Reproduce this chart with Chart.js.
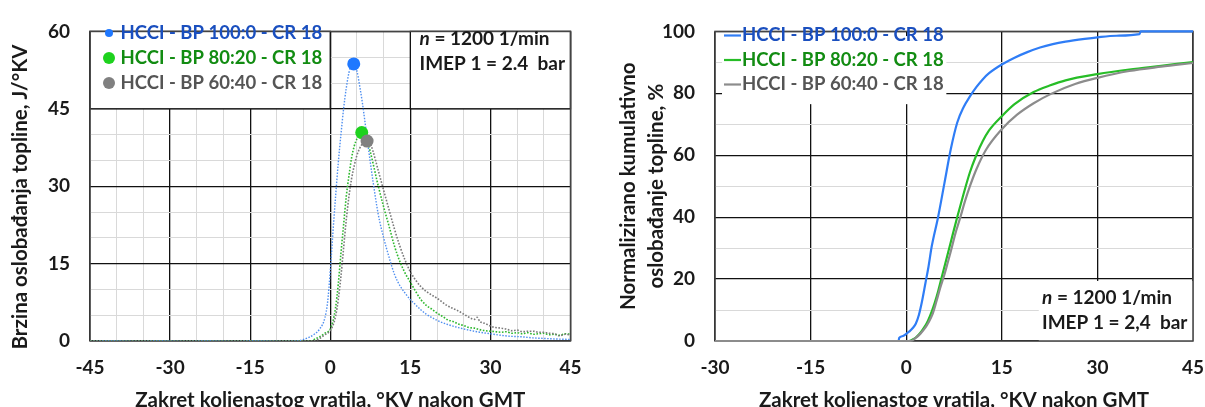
<!DOCTYPE html>
<html>
<head>
<meta charset="utf-8">
<script src="https://cdn.jsdelivr.net/npm/chart.js@4.4.1/dist/chart.umd.min.js"></script>
<style>
  html, body { margin: 0; padding: 0; background: #fff; width: 1205px; height: 407px; overflow: hidden; }
  .panel { position: absolute; top: 0; height: 420px; }
  #left-panel { left: 0; width: 600px; }
  #right-panel { left: 600px; width: 625px; }
</style>
</head>
<body>
<div class="panel" id="left-panel"><canvas id="hrr-chart"></canvas></div>
<div class="panel" id="right-panel"><canvas id="cum-chart"></canvas></div>
<script>
// ============================
// DATA
// ============================

const SERIES_NAMES = ["HCCI - BP 100:0 - CR 18", "HCCI - BP 80:20 - CR 18", "HCCI - BP 60:40 - CR 18"];

const X_TITLE = "Zakret koljenastog vratila, °KV nakon GMT";
const HRR_Y_TITLE = "Brzina oslobađanja topline, J/°KV";
const CUM_Y_TITLE = ["Normalizirano kumulativno", "oslobađanje topline, %"];

const HRR_NOTES = ["n = 1200 1/min", "IMEP 1 = 2.4  bar"];
const CUM_NOTES = ["n = 1200 1/min", "IMEP 1 = 2,4  bar"];

// heat release rate, J/°KV (left)
const hrrAngle100 = [-45, -6, -5, -4, -3, -2, -1, -0.5, 0, 0.5, 1, 1.5, 2, 2.5, 3, 3.5, 4, 4.4, 5, 5.5, 6, 6.5, 7, 8, 9, 10, 11, 12, 13, 14, 15, 16, 17, 18, 20, 22, 24, 26, 28, 30, 32, 34, 36, 38, 40, 42, 45];
const hrr100 = [0, 0, 0.3, 0.7, 1.3, 2.3, 4.5, 7.5, 13.5, 21, 28, 34.5, 40, 45, 49, 52, 53.4, 53.7, 52.3, 49.5, 46.3, 42.5, 38.5, 31, 24.5, 20, 16.3, 13, 10.8, 9.3, 8, 7, 6, 5.2, 4, 3.2, 2.6, 2.1, 1.7, 1.4, 1.1, 0.9, 0.8, 0.6, 0.5, 0.4, 0.3];

const hrrAngle80 = [-45, -3.4, -3, -2, -1, 0, 0.5, 1, 1.5, 2, 2.5, 3, 3.5, 4, 4.5, 5, 5.9, 6.5, 7, 7.5, 8, 9, 10, 11, 12, 13, 14, 15, 16, 17, 18, 19, 20, 21, 22, 23, 24, 25, 26, 27, 28, 29, 30, 31, 32, 33, 34, 35, 36, 37, 38, 39, 40, 41, 42, 43, 44, 45];
const hrr80 = [0, 0, 0.3, 0.8, 1.5, 2.3, 3.8, 6.5, 11, 17, 22.5, 28, 32, 35.5, 37.8, 39.2, 40.4, 39.8, 38.5, 36.7, 34.5, 30, 26, 22.3, 18.5, 15.5, 13.2, 11.4, 9.6, 8.0, 6.9, 6.2, 5.4, 4.8, 4.1, 3.8, 3.3, 3.0, 2.6, 2.5, 2.2, 2.0, 1.9, 1.8, 1.7, 1.8, 1.5, 1.6, 1.4, 1.6, 1.3, 1.4, 1.5, 1.2, 1.3, 1.1, 1.4, 1.3];

const hrrAngle60 = [-45, -3, -2, -1, 0, 0.5, 1, 1.5, 2, 2.5, 3, 3.5, 4, 4.5, 5, 5.5, 6, 6.9, 7.5, 8, 9, 10, 11, 12, 13, 14, 15, 16, 17, 18, 19, 20, 21, 22, 23, 24, 25, 26, 27, 27.5, 28, 29, 30, 31, 32, 33, 34, 35, 36, 37, 38, 39, 40, 41, 42, 43, 44, 45];
const hrr60 = [0, 0, 0.5, 1.2, 2.0, 3.0, 4.8, 8, 12.5, 18, 23.5, 28, 31.5, 34, 36, 37.3, 38.2, 38.75, 38.2, 36.8, 33, 29.2, 25.5, 21.8, 18.5, 15.7, 13.4, 11.8, 10.5, 9.6, 8.9, 8.3, 7.5, 6.8, 6.3, 5.8, 5.2, 4.6, 4.2, 4.6, 3.8, 3.4, 2.9, 2.6, 2.5, 2.3, 2.0, 2.1, 1.8, 1.9, 1.9, 1.7, 1.7, 1.5, 1.4, 1.0, 1.3, 1.2];

// peak markers
const peakAngle = [4.4, 5.9, 6.9];
const peakHrr = [53.7, 40.4, 38.75];

// normalized cumulative heat release, % (right)
const cumAngle100 = [-30, -1.2, -1.1, -0.5, 0, 0.5, 1, 1.5, 2, 2.5, 3, 3.5, 4, 5, 6, 7, 8, 9, 10, 11, 12, 13, 15, 17, 19, 21, 23, 25, 28, 30, 33, 36.6, 36.8, 45];
const cum100 = [0, 0, 1.0, 1.6, 2.3, 3.1, 4.1, 5.6, 8.5, 13, 18.5, 24, 30.5, 40, 51, 62, 70.5, 75.5, 79, 82, 84.5, 86.5, 89.3, 91.5, 93.3, 94.8, 95.9, 96.7, 97.6, 98.1, 98.6, 99.1, 100, 100];

const cumAngle80 = [-30, 0.4, 1, 1.6, 2.2, 2.8, 3.4, 4, 4.5, 5, 5.5, 6, 7, 8, 9, 10, 11, 12, 13, 15, 17, 20, 22.5, 25, 30, 35, 40, 45];
const cum80 = [0, 0, 0.5, 1.3, 2.6, 4.3, 6.5, 9.5, 12.5, 16, 20, 24, 32, 40, 47.5, 54.5, 60, 64.5, 68, 72.6, 76.5, 80.4, 82.5, 84.2, 86.2, 87.7, 88.9, 90.1];

const cumAngle60 = [-30, 0.7, 1.5, 2.2, 3, 3.5, 4.1, 4.7, 5.3, 6, 6.5, 7, 7.7, 8.5, 9.2, 10, 11, 12.5, 15, 17.4, 20, 22.8, 26.5, 30, 35, 40, 45];
const cum60 = [0, 0, 1.0, 2.3, 4.3, 6.0, 8.5, 12.5, 16.9, 21.5, 25.2, 29, 34.6, 40, 45, 50, 55.4, 61.7, 68.4, 73.1, 76.8, 79.9, 83, 85, 87.2, 88.6, 89.8];

// ============================
// STYLE
// ============================

const FONT = "Lato, 'Open Sans', sans-serif";
const FONT_SIZE = 19;
const LEGEND_SIZE = 18.5;
const TITLE_SIZE = 20.5;
const NOTE_SIZE = 19;

const MAJOR = "#111";
const MINOR = "#d9d9d9";

const LINE_COLORS = ["#2f7df6", "#27bd27", "#8c8c8c"];
const DOT_LINE_COLORS = ["#4f8ff0", "#2eb82e", "#7a7a7a"];
const PEAK_COLORS = ["#1f78ff", "#1ed21e", "#808080"];
const LEGEND_TEXT = ["#1a4fbf", "#128c12", "#555555"];

Chart.defaults.font.family = FONT;
Chart.defaults.color = "#1a1a1a";

// ============================
// HELPERS
// ============================

function toPoints(xs, ys) {
  return xs.map((x, i) => ({ x, y: ys[i] }));
}

function boldFont(size = FONT_SIZE, lineHeight = 1.2) {
  return { family: FONT, size, weight: "bold", lineHeight };
}

function drawFrame(ctx, a) {
  ctx.strokeStyle = "#444";
  ctx.lineWidth = 1.5;
  ctx.strokeRect(a.left, a.top, a.right - a.left, a.bottom - a.top);
}

function drawNotes(ctx, x, ys, lines) {
  ctx.fillStyle = "#1a1a1a";
  ctx.textAlign = "left";
  ctx.textBaseline = "middle";
  lines.forEach((line, i) => {
    let cx = x;
    let rest = line;
    if (line.startsWith("n ")) {
      ctx.font = `italic bold ${NOTE_SIZE}px ${FONT}`;
      ctx.fillText("n", cx, ys[i]);
      cx += ctx.measureText("n").width;
      rest = line.slice(1);
    }
    ctx.font = `bold ${NOTE_SIZE}px ${FONT}`;
    ctx.fillText(rest, cx, ys[i]);
  });
}

function drawLegendLabel(ctx, i, x, y) {
  ctx.font = `bold ${LEGEND_SIZE}px ${FONT}`;
  ctx.fillStyle = LEGEND_TEXT[i];
  ctx.textAlign = "left";
  ctx.textBaseline = "middle";
  ctx.fillText(SERIES_NAMES[i], x, y);
}

function gridStyle(majorStep) {
  return {
    drawTicks: false,
    color: c => (c.tick && c.tick.value % majorStep === 0 ? MAJOR : MINOR),
    lineWidth: c => (c.tick && c.tick.value % majorStep === 0 ? 1.3 : 1)
  };
}

// ============================
// LEFT: HEAT RELEASE RATE
// ============================

const hrrDecor = {
  id: "hrrDecor",
  beforeDatasetsDraw(chart) {
    const { ctx, chartArea: a, scales: { x, y } } = chart;
    const x0 = x.getPixelForValue(0);
    const x15 = x.getPixelForValue(15);
    const y45 = y.getPixelForValue(45);

    ctx.save();
    ctx.fillStyle = "#fff";
    ctx.fillRect(a.left, a.top, x0 - a.left, y45 - a.top);
    ctx.fillRect(x15, a.top, a.right - x15, y45 - a.top);
    ctx.strokeStyle = MAJOR;
    ctx.lineWidth = 1.3;
    ctx.strokeRect(a.left, a.top, x0 - a.left, y45 - a.top);
    ctx.strokeRect(x15, a.top, a.right - x15, y45 - a.top);
    drawFrame(ctx, a);
    ctx.restore();
  },
  afterDraw(chart) {
    const { ctx } = chart;
    ctx.save();

    // legend
    const rows = [33, 58, 83];
    const radius = [4, 6, 6];
    rows.forEach((ry, i) => {
      ctx.beginPath();
      ctx.arc(109, ry, radius[i], 0, Math.PI * 2);
      ctx.fillStyle = PEAK_COLORS[i];
      ctx.fill();
      drawLegendLabel(ctx, i, 120.5, ry);
    });

    drawNotes(ctx, 419.5, [39, 64], HRR_NOTES);

    // y title sits a bit below the axis centre in the original
    ctx.translate(20, 197);
    ctx.rotate(-Math.PI / 2);
    ctx.font = `bold ${TITLE_SIZE}px ${FONT}`;
    ctx.fillStyle = "#1a1a1a";
    ctx.textAlign = "center";
    ctx.textBaseline = "middle";
    ctx.fillText(HRR_Y_TITLE, 0, 0);
    ctx.restore();
  }
};

function hrrLine(xs, ys, i, width, dash, order) {
  return {
    label: SERIES_NAMES[i],
    data: toPoints(xs, ys),
    borderColor: DOT_LINE_COLORS[i],
    borderWidth: width,
    borderDash: dash,
    pointRadius: 0,
    fill: false,
    cubicInterpolationMode: "monotone",
    order
  };
}

new Chart(document.getElementById("hrr-chart"), {
  type: "line",
  data: {
    datasets: [
      {
        type: "scatter",
        label: "peaks",
        data: toPoints(peakAngle, peakHrr),
        backgroundColor: PEAK_COLORS,
        borderWidth: 0,
        pointRadius: 6.5,
        showLine: false,
        order: 0
      },
      hrrLine(hrrAngle100, hrr100, 0, 1.4, [1.5, 1.5], 3),
      hrrLine(hrrAngle80, hrr80, 1, 1.6, [1.6, 1.6], 2),
      hrrLine(hrrAngle60, hrr60, 2, 1.6, [1.6, 1.6], 1)
    ]
  },
  options: {
    responsive: true,
    maintainAspectRatio: false,
    animation: false,
    layout: { padding: { top: 18.5, right: 29.5, left: 0, bottom: 0 } },
    plugins: { legend: { display: false }, tooltip: { enabled: false } },
    scales: {
      x: {
        type: "linear",
        min: -45,
        max: 45,
        ticks: {
          stepSize: 5,
          autoSkip: false,
          maxRotation: 0,
          padding: 15,
          font: boldFont(),
          callback: v => (v % 15 === 0 ? v : "")
        },
        grid: gridStyle(15),
        border: { display: false },
        title: { display: true, text: X_TITLE, font: boldFont(TITLE_SIZE), padding: { top: 0, bottom: 7 } },
        afterFit: s => { s.height = 79; }
      },
      y: {
        min: 0,
        max: 60,
        ticks: {
          stepSize: 5,
          padding: 20,
          font: boldFont(),
          callback: v => (v % 15 === 0 ? v : "")
        },
        grid: gridStyle(15),
        border: { display: false },
        afterFit: s => { s.width = 90; }
      }
    }
  },
  plugins: [hrrDecor]
});

// ============================
// RIGHT: CUMULATIVE HEAT RELEASE
// ============================

const cumDecor = {
  id: "cumDecor",
  beforeDatasetsDraw(chart) {
    const { ctx, chartArea: a, scales: { x, y } } = chart;
    ctx.save();
    ctx.fillStyle = "#fff";
    // behind legend
    const lx0 = x.getPixelForValue(-28.9);
    const lx1 = x.getPixelForValue(6.3);
    const ly0 = y.getPixelForValue(98.5);
    const ly1 = y.getPixelForValue(76.5);
    ctx.fillRect(lx0, ly0, lx1 - lx0, ly1 - ly0);
    // behind notes
    const nx = x.getPixelForValue(20.8);
    const ny = y.getPixelForValue(19.4);
    ctx.fillRect(nx, ny, a.right - nx, a.bottom - ny);
    drawFrame(ctx, a);
    ctx.restore();
  },
  afterDraw(chart) {
    const { ctx } = chart;
    ctx.save();
    const rows = [35.5, 60, 84.5];
    rows.forEach((ry, i) => {
      ctx.beginPath();
      ctx.moveTo(124, ry);
      ctx.lineTo(141, ry);
      ctx.strokeStyle = LINE_COLORS[i];
      ctx.lineWidth = 2.2;
      ctx.stroke();
      drawLegendLabel(ctx, i, 142, ry);
    });
    drawNotes(ctx, 442, [298, 323], CUM_NOTES);
    ctx.restore();
  }
};

function cumLine(xs, ys, i, order) {
  return {
    label: SERIES_NAMES[i],
    data: toPoints(xs, ys),
    borderColor: LINE_COLORS[i],
    borderWidth: 2.2,
    pointRadius: 0,
    fill: false,
    clip: 4,
    cubicInterpolationMode: "monotone",
    order
  };
}

new Chart(document.getElementById("cum-chart"), {
  type: "line",
  data: {
    datasets: [
      cumLine(cumAngle100, cum100, 0, 3),
      cumLine(cumAngle80, cum80, 1, 2),
      cumLine(cumAngle60, cum60, 2, 1)
    ]
  },
  options: {
    responsive: true,
    maintainAspectRatio: false,
    animation: false,
    layout: { padding: { top: 20.5, right: 32, left: 0, bottom: 0 } },
    plugins: { legend: { display: false }, tooltip: { enabled: false } },
    scales: {
      x: {
        type: "linear",
        min: -30,
        max: 45,
        ticks: {
          stepSize: 15,
          autoSkip: false,
          maxRotation: 0,
          padding: 15,
          font: boldFont()
        },
        grid: gridStyle(15),
        border: { display: false },
        title: { display: true, text: X_TITLE, font: boldFont(TITLE_SIZE), padding: { top: 0, bottom: 7 } },
        afterFit: s => { s.height = 79; }
      },
      y: {
        min: 0,
        max: 100,
        ticks: {
          stepSize: 5,
          padding: 20,
          font: boldFont(),
          callback: v => (v % 20 === 0 ? v : "")
        },
        grid: gridStyle(20),
        border: { display: false },
        title: { display: true, text: CUM_Y_TITLE, font: boldFont(TITLE_SIZE, 28 / TITLE_SIZE), padding: { top: 14, bottom: 0 } },
        afterFit: s => { s.width = 115; }
      }
    }
  },
  plugins: [cumDecor]
});
</script>
</body>
</html>
